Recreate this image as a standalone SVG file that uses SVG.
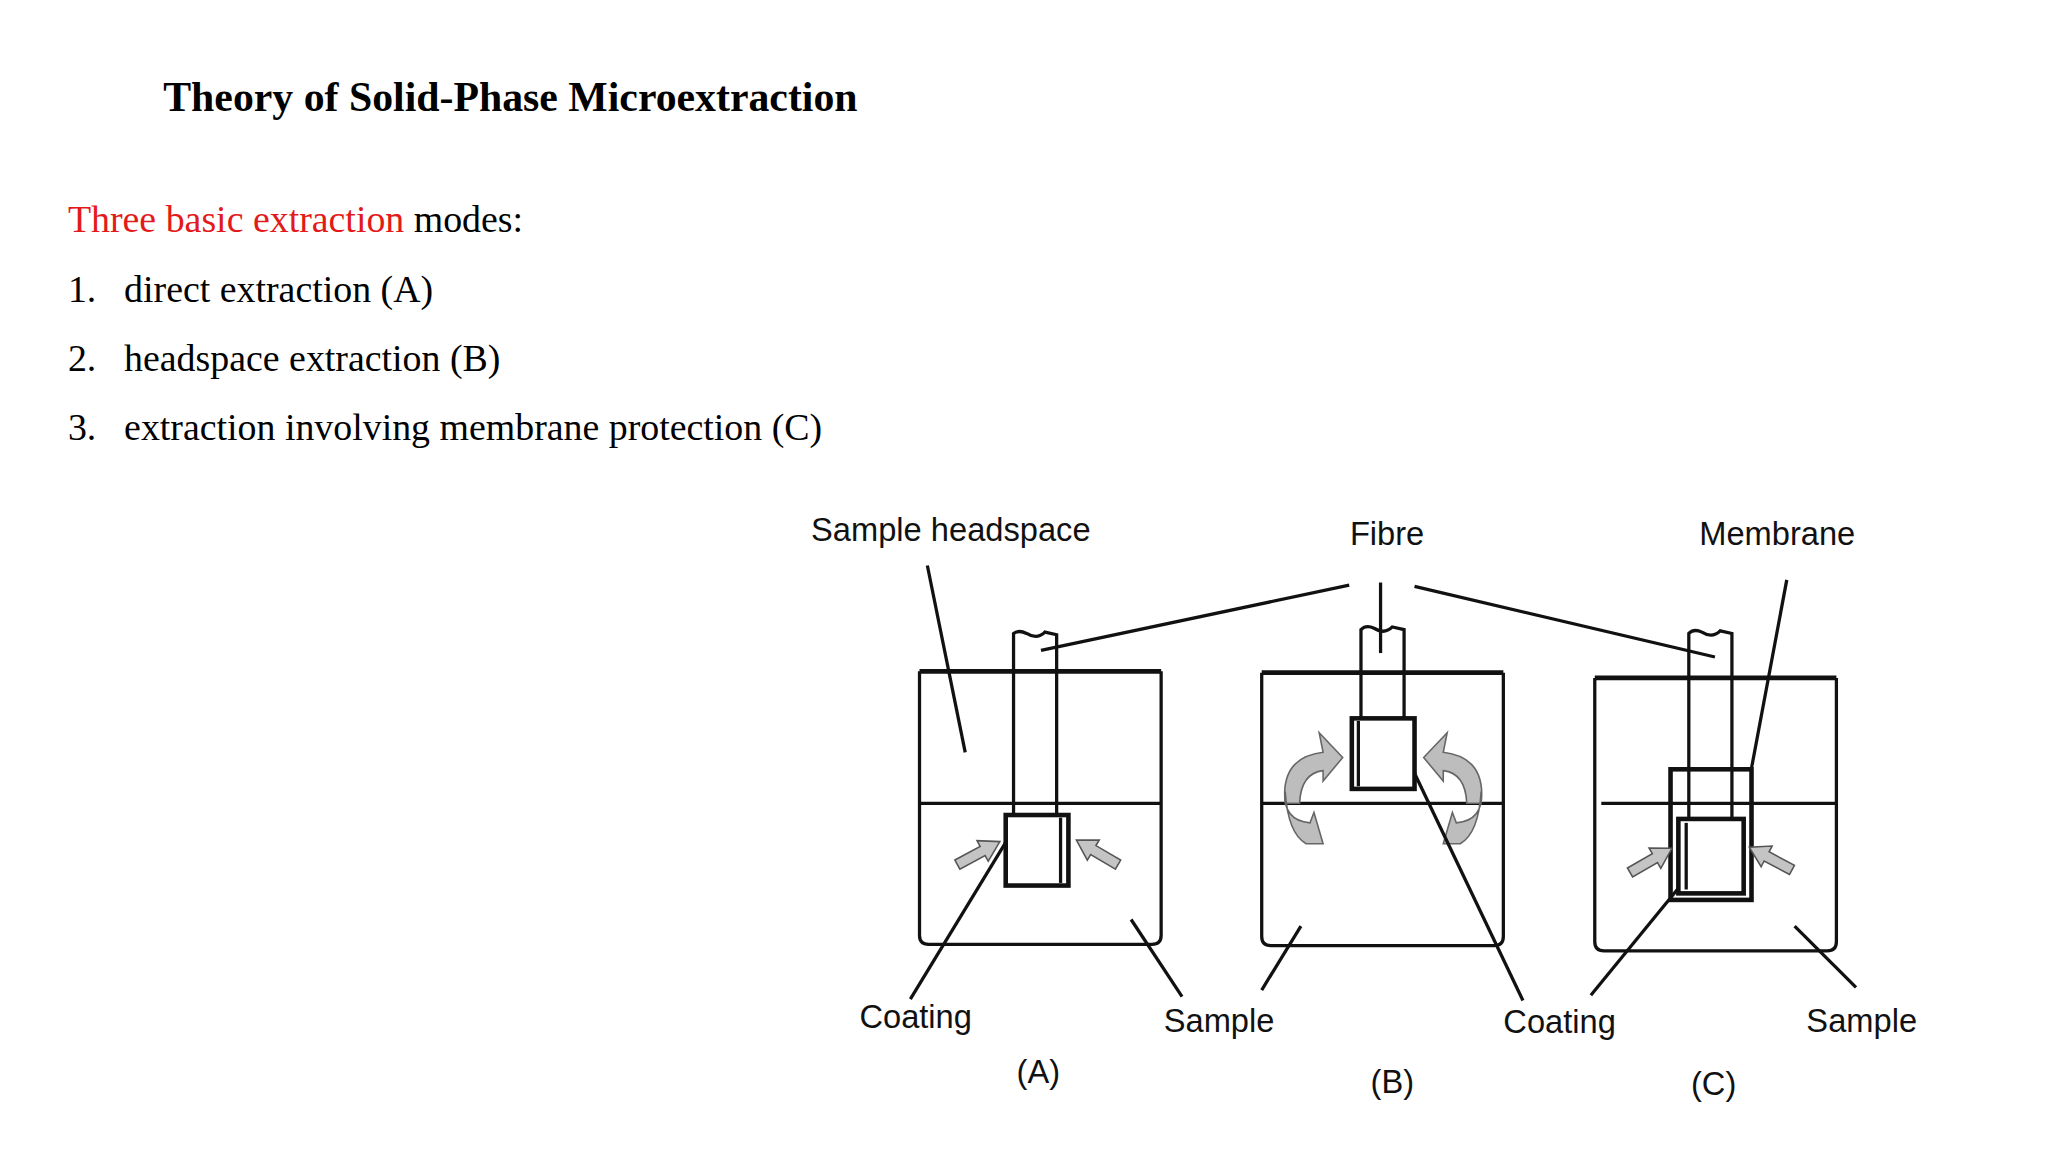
<svg xmlns="http://www.w3.org/2000/svg" width="2048" height="1152" viewBox="0 0 2048 1152">
<defs>
<style>
.s{font-family:"Liberation Serif",serif;font-size:29px;fill:#000}
.l{font-family:"Liberation Sans",Arial,sans-serif;font-size:25px;fill:#111}
.ln{stroke:#111;stroke-width:2.5;fill:none}
.th{stroke:#111;stroke-width:3.5;fill:none}
.ar{fill:#c4c4c4;stroke:#555;stroke-width:1.2}
.cu{fill:#bdbdbd;stroke:#666;stroke-width:1.2}
</style>
<path id="arr" d="M0,-4 L22,-4 L22,-9 L37,0 L22,9 L22,4 L0,4 Z"/>
</defs>
<rect width="2048" height="1152" fill="#fff"/>
<g transform="scale(1.30612)">
<g id="text">
<text x="125" y="85" class="s" style="font-weight:bold;font-size:32px">Theory of Solid-Phase Microextraction</text>
<text x="52" y="178" class="s"><tspan fill="#e31a1a">Three basic extraction</tspan> modes:</text>
<text x="52" y="231" class="s">1.</text><text x="95" y="231" class="s">direct extraction (A)</text>
<text x="52" y="284" class="s">2.</text><text x="95" y="284" class="s">headspace extraction (B)</text>
<text x="52" y="337" class="s">3.</text><text x="95" y="337" class="s">extraction involving membrane protection (C)</text>
</g>
<g id="vialA">
<path class="ln" d="M704,514 L704,716 Q704,723 711,723 L882,723 Q889,723 889,716 L889,514"/>
<line class="th" x1="704" y1="514" x2="889" y2="514"/>
<line class="ln" x1="704" y1="615" x2="889" y2="615"/>
<path class="ln" d="M776,625 L776,485 Q780,482 786,485 Q794,490 800,484 L809,486 L809,625"/>
<rect class="th" x="770" y="624" width="48" height="54" fill="#fff"/>
<line class="ln" x1="812" y1="626" x2="812" y2="676" stroke-width="1.5"/>
<use href="#arr" class="ar" transform="translate(733,662) rotate(-28.5)"/>
<use href="#arr" class="ar" transform="translate(856,662) rotate(-149.5)"/>
</g>
<g id="vialB">
<path class="ln" d="M966,515 L966,717 Q966,724 973,724 L1144,724 Q1151,724 1151,717 L1151,515"/>
<line class="th" x1="966" y1="515" x2="1151" y2="515"/>
<line class="ln" x1="966" y1="615" x2="1151" y2="615"/>
<path class="ln" d="M1042,550 L1042,482 Q1046,478 1052,481 Q1060,486 1066,480 L1075,482 L1075,550"/>
<rect class="th" x="1035" y="550" width="48" height="54" fill="#fff"/>
<line class="ln" x1="1040" y1="552" x2="1040" y2="602" stroke-width="1.5"/>
<path class="cu" d="M984,615 Q980,580 1013,576 L1010,561 L1028,580 L1013,598 L1013,590 Q996,592 995,615 Z"/>
<path class="cu" d="M984,606 Q982,628 1003,630 L1006,622 L1013,646 L1000,646 Q986,638 984,606 Z"/>
<path class="cu" d="M1134,615 Q1138,580 1105,576 L1108,561 L1090,580 L1105,598 L1105,590 Q1122,592 1123,615 Z"/>
<path class="cu" d="M1134,606 Q1136,628 1115,630 L1112,622 L1105,646 L1118,646 Q1132,638 1134,606 Z"/>
</g>
<g id="vialC">
<path class="ln" d="M1221,519 L1221,721 Q1221,728 1228,728 L1399,728 Q1406,728 1406,721 L1406,519"/>
<line class="th" x1="1221" y1="519" x2="1406" y2="519"/>
<line class="ln" x1="1226" y1="615" x2="1406" y2="615"/>
<path class="ln" d="M1293,627 L1293,485 Q1297,481 1303,484 Q1311,489 1317,483 L1326,485 L1326,627"/>
<rect class="th" x="1279" y="589" width="62" height="100"/>
<rect class="th" x="1285" y="627" width="50" height="57" fill="#fff"/>
<line class="ln" x1="1291" y1="630" x2="1291" y2="681" stroke-width="1.5"/>
<use href="#arr" class="ar" transform="translate(1248,668) rotate(-30)"/>
<use href="#arr" class="ar" transform="translate(1372,666) rotate(-152)"/>
</g>
<g id="connectors">
<line class="ln" x1="710" y1="433" x2="739" y2="576"/>
<line class="ln" x1="697" y1="765" x2="770" y2="645"/>
<line class="ln" x1="905" y1="763" x2="866" y2="704"/>
<line class="ln" x1="797" y1="498" x2="1033" y2="448"/>
<line class="ln" x1="1057" y1="446" x2="1057" y2="500"/>
<line class="ln" x1="1083" y1="449" x2="1313" y2="503"/>
<line class="ln" x1="1083" y1="592" x2="1166" y2="766"/>
<line class="ln" x1="966" y1="758" x2="996" y2="709"/>
<line class="ln" x1="1368" y1="444" x2="1341" y2="588"/>
<line class="ln" x1="1218" y1="762" x2="1285" y2="680"/>
<line class="ln" x1="1421" y1="756" x2="1374" y2="709"/>
</g>
<g id="labels">
<text x="621" y="414" class="l">Sample headspace</text>
<text x="1062" y="417" class="l" text-anchor="middle">Fibre</text>
<text x="1301" y="417" class="l">Membrane</text>
<text x="658" y="787" class="l">Coating</text>
<text x="891" y="790" class="l">Sample</text>
<text x="1151" y="791" class="l">Coating</text>
<text x="1383" y="790" class="l">Sample</text>
<text x="795" y="829" class="l" text-anchor="middle">(A)</text>
<text x="1066" y="837" class="l" text-anchor="middle">(B)</text>
<text x="1312" y="838" class="l" text-anchor="middle">(C)</text>
</g>
</g>
</svg>
